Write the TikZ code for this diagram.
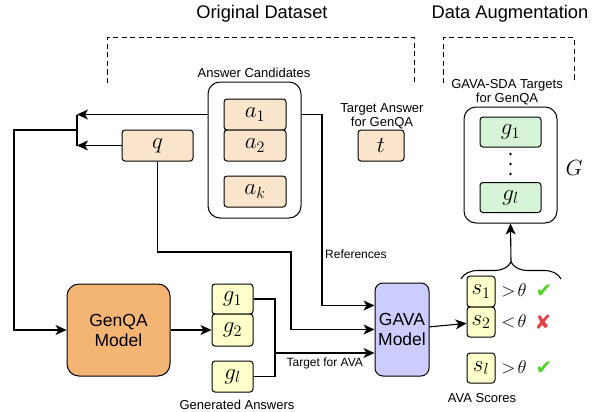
\RequirePackage{fix-cm}
\documentclass[tikz,border=0pt]{standalone}
\usepackage{fontspec}
\setmainfont{Liberation Sans}
\newfontfamily\symfont{DejaVu Sans}
\usetikzlibrary{arrows.meta,decorations.pathreplacing}

\definecolor{peachc}{RGB}{250,228,204}
\definecolor{yelc}{RGB}{255,255,204}
\definecolor{greenc}{RGB}{214,245,214}
\definecolor{orangec}{RGB}{243,180,116}
\definecolor{lavc}{RGB}{204,204,255}
\definecolor{okc}{RGB}{80,210,40}
\definecolor{noc}{RGB}{225,70,70}

\tikzset{
  lbl/.style={font=\fontsize{13}{14}\selectfont, align=center, inner sep=0pt},
  small/.style={font=\fontsize{12}{13}\selectfont, inner sep=0pt},
  title/.style={font=\fontsize{18.3}{20}\selectfont, inner sep=0pt},
  cell/.style={draw, rounded corners=3pt, line width=1pt, inner sep=0pt,
    font=\fontsize{23}{24}\selectfont},
  peach/.style={cell, fill=peachc},
  yel/.style={cell, fill=yelc},
  grn/.style={cell, fill=greenc},
  group/.style={draw, rounded corners=12pt, line width=1pt, inner sep=0pt},
  model/.style={draw, line width=1pt, inner sep=0pt, align=center,
    font=\fontsize{17.5}{20}\selectfont},
  arr/.style={line width=1.1pt, -{Stealth[length=11pt,width=10pt,inset=3pt]}},
  wire/.style={line width=1.1pt},
  dashline/.style={line width=1pt, dash pattern=on 5pt off 3.5pt},
  thr/.style={font=\fontsize{18.5}{19}\selectfont, inner sep=0pt},
  verdict/.style={font=\symfont\fontsize{20}{20}\selectfont, inner sep=0pt}
}

\begin{document}
\begin{tikzpicture}[x=1pt,y=-1pt]
    \useasboundingbox (0,0) rectangle (594,412);

    % titles and dashed brackets
    \node[title] (orig) at (262,14) {Original Dataset};
    \node[title] (aug) at (510,14) {Data Augmentation};
    \draw[dashline] (107,83) |- (414,38) -- (414,83);
    \draw[dashline] (443,83) |- (574,38) -- (574,83);

    % answer candidates
    \node[lbl] (candl) at (254,73) {Answer Candidates};
    \node[group, minimum width=93pt, minimum height=136pt] (cand) at (254.5,150) {};
    \node[peach, minimum width=62pt, minimum height=31pt] (a1) at (255,114.5) {$a_1$};
    \node[peach, minimum width=62pt, minimum height=31pt] (a2) at (255,145.5) {$a_2$};
    \node[peach, minimum width=62pt, minimum height=31pt] (ak) at (255,191.5) {$a_k$};

    \node[peach, minimum width=71pt, minimum height=31pt] (q) at (157.5,145.5) {$q$};

    \node[lbl] (tl) at (382,116) {Target Answer\\for GenQA};
    \node[peach, minimum width=46pt, minimum height=31pt] (t) at (381,145.5) {$t$};

    % augmented targets
    \node[lbl] (gl0) at (507,92.5) {GAVA-SDA Targets\\for GenQA};
    \node[group, minimum width=93pt, minimum height=116pt] (gbox) at (510.5,165) {};
    \node[grn, minimum width=61pt, minimum height=30pt] (tg1) at (510.5,132) {$g_1$};
    \node[grn, minimum width=61pt, minimum height=30pt] (tgl) at (510.5,197.5) {$g_l$};
    \foreach \y in {154,164,174}
        \fill (510.5,\y) circle (1.3pt);
    \node[font=\fontsize{22}{22}\selectfont, inner sep=0pt] (G) at (574,168) {$G$};

    % models
    \node[model, fill=orangec, rounded corners=12pt, minimum width=103pt, minimum height=92pt] (genqa) at (118.5,330) {GenQA\\Model};
    \node[model, fill=lavc, rounded corners=8pt, minimum width=54pt, minimum height=93pt] (gava) at (402,329.5) {GAVA\\Model};

    % generated answers
    \node[yel, minimum width=41pt, minimum height=30pt] (g1) at (232.5,299) {$g_1$};
    \node[yel, minimum width=41pt, minimum height=32pt] (g2) at (232.5,330) {$g_2$};
    \node[yel, minimum width=41pt, minimum height=31pt] (gl) at (232.5,376.5) {$g_l$};
    \node[lbl] (genl) at (237,405) {Generated Answers};

    % scores
    \node[yel, minimum width=28pt, minimum height=31pt] (s1) at (481,291.5) {$s_1$};
    \node[yel, minimum width=28pt, minimum height=30pt] (s2) at (481,322) {$s_2$};
    \node[yel, minimum width=28pt, minimum height=30pt] (sl) at (481,368) {$s_l$};
    \node[lbl] (avl) at (482,398) {AVA Scores};
    \node[thr] (th1) at (514,290) {$>\!\theta$};
    \node[thr] (th2) at (514,321) {$<\!\theta$};
    \node[thr] (thl) at (514,367) {$>\!\theta$};
    \node[verdict, text=okc] (ck1) at (544,291) {✔};
    \node[verdict, text=noc] (ck2) at (543,322) {✘};
    \node[verdict, text=okc] (ckl) at (544,368) {✔};

    % inputs to GenQA
    \coordinate (m1) at (77,114.5);
    \coordinate (m2) at (77,145.5);
    \coordinate (mm) at (77,130);
    \coordinate (lft) at (14,130);
    \draw[arr] (cand.west |- a1) -- (m1);
    \draw[arr] (q.west) -- (m2);
    \draw[wire] (m1) -- (m2);
    \draw[arr] (mm) -- (lft) |- (genqa.west);
    \draw[arr] (genqa) -- (g2);

    % inputs to GAVA
    \coordinate (gbar) at (275,353);
    \draw[wire] (g1.east) -- (g1.east -| gbar) -- (gl.east -| gbar) -- (gl.east);
    \draw[arr] (gbar) -- ([yshift=-23.5pt]gava.west) node[small, midway, below=4pt] {Target for AVA};
    \coordinate (qc) at (291,252);
    \draw[arr] (q.south) |- (qc) |- (gava.west);
    \coordinate (rc) at (322,114.5);
    \draw[arr] (cand.east |- a1) -- (rc) |- ([yshift=24pt]gava.west);
    \node[small, anchor=west] (refl) at (325,254) {References};
    \draw[arr] (gava) -- (s2);

    % selection
    \coordinate (bl) at (461,279);
    \coordinate (br) at (561,279);
    \coordinate (brtip) at (511,262);
    \draw[wire, decorate, decoration={brace, amplitude=17pt}] (bl) -- (br);
    \draw[arr] (brtip) -- (gbox.south);
\end{tikzpicture}
\end{document}
